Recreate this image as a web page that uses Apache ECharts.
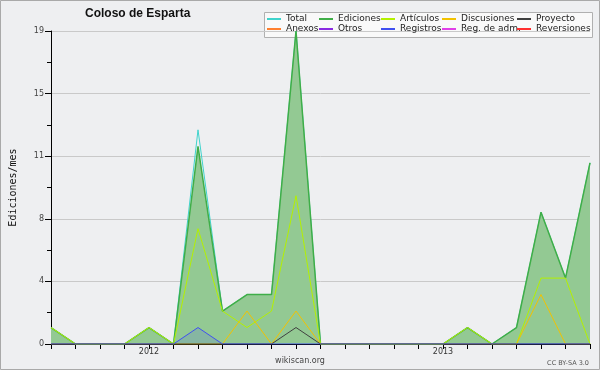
<!DOCTYPE html>
<html><head><meta charset="utf-8">
<script src="https://cdn.jsdelivr.net/npm/echarts@6/dist/echarts.min.js"></script>
<style>html,body{margin:0;padding:0;background:#eeeff1}#c{width:600px;height:370px}</style>
</head><body><div id="c"></div>
<script>
const months = ['2011-09','2011-10','2011-11','2011-12','2012-01','2012-02','2012-03','2012-04','2012-05','2012-06','2012-07','2012-08','2012-09','2012-10','2012-11','2012-12','2013-01','2013-02','2013-03','2013-04','2013-05','2013-06','2013-07'];
const total       = [1,0,0,0,1,0,13,2,3,3,19,0,0,0,0,0,0,1,0,1,8,4,11];
const ediciones   = [1,0,0,0,1,0,12,2,3,3,19,0,0,0,0,0,0,1,0,1,8,4,11];
const articulos   = [1,0,0,0,1,0,7,2,1,2,9,0,0,0,0,0,0,1,0,0,4,4,0];
const discusiones = [0,0,0,0,0,0,0,0,2,0,2,0,0,0,0,0,0,0,0,0,3,0,0];
const proyecto    = [0,0,0,0,0,0,0,0,0,0,1,0,0,0,0,0,0,0,0,0,0,0,0];
const registros   = [0,0,0,0,0,0,1,0,0,0,0,0,0,0,0,0,0,0,0,0,0,0,0];

const C = {
  'Total':'#3fd3cc','Ediciones':'#3fae48','Artículos':'#b4f000','Discusiones':'#f2c200',
  'Proyecto':'#404040','Anexos':'#ff8030','Otros':'#8a2be2','Registros':'#4050f0',
  'Reg. de adm.':'#e040e8','Reversiones':'#ff3030'
};
function line(name, data, extra) {
  return Object.assign({
    name, type:'line', data, symbol:'none', silent:true,
    lineStyle:{width:1, color:C[name]}, itemStyle:{color:C[name]}
  }, extra || {});
}
const chart = echarts.init(document.getElementById('c'), null, {renderer:'canvas'});
const legCols = [
  [267, ['Total','Anexos']],
  [319, ['Ediciones','Otros']],
  [381, ['Artículos','Registros']],
  [442, ['Discusiones','Reg. de adm.']],
  [517, ['Proyecto','Reversiones']]
];
chart.setOption({
  animation:false,
  backgroundColor:'#eeeff1',
  title:{text:'Coloso de Esparta', left:85, top:8, padding:0,
    textStyle:{fontFamily:'Liberation Sans', fontSize:12, fontWeight:'bold', color:'#111'}},
  graphic:[
    {type:'rect', shape:{x:0.5,y:0.5,width:599,height:369}, style:{fill:null, stroke:'#a9a9a9', lineWidth:1}, z:-1, silent:true},
    {type:'rect', shape:{x:264.5,y:12.5,width:328,height:25}, style:{fill:'#f9f9f9', stroke:'#b0b0b0', lineWidth:1}, z:0, silent:true},
    {type:'text', x:300, y:361, style:{text:'wikiscan.org', fontFamily:'DejaVu Sans', fontSize:8, fill:'#444', align:'center', verticalAlign:'middle'}},
    {type:'text', x:589, y:363, style:{text:'CC BY-SA 3.0', fontFamily:'DejaVu Sans', fontSize:6.5, fill:'#555', align:'right', verticalAlign:'middle'}}
  ],
  legend: legCols.map(([l, d]) => ({
    orient:'vertical', left:l, top:14, padding:0, itemGap:0, itemWidth:14, itemHeight:2,
    icon:'rect', selectedMode:false, data:d, z:5,
    textStyle:{fontFamily:'DejaVu Sans', fontSize:9, lineHeight:10, color:'#222'}
  })),
  grid:{left:47, right:10, top:31, bottom:26, containLabel:false},
  xAxis:{
    type:'category', data:months, boundaryGap:false,
    axisLine:{lineStyle:{color:'#000', width:1}},
    axisTick:{show:true, length:5, interval:0, lineStyle:{color:'#000'}},
    axisLabel:{interval:0, margin:4, fontFamily:'DejaVu Sans', fontSize:8, color:'#333',
      formatter:v => v.endsWith('-01') ? v.slice(0,4) : ''},
    splitLine:{show:false}
  },
  yAxis:{
    type:'value', min:0, max:19, interval:3.8,
    name:'Ediciones/mes', nameLocation:'middle', nameGap:33, nameRotate:90,
    nameTextStyle:{fontFamily:'DejaVu Sans Mono', fontSize:10, color:'#111'},
    axisLine:{show:true, lineStyle:{color:'#000', width:1}},
    axisTick:{show:true, length:6, lineStyle:{color:'#000'}},
    minorTick:{show:true, splitNumber:2, length:4, lineStyle:{color:'#000'}},
    axisLabel:{margin:7, fontFamily:'DejaVu Sans', fontSize:8, color:'#444',
      formatter:v => String(Math.round(v))},
    splitLine:{show:true, lineStyle:{color:'#c9c9c9', width:1}}
  },
  series:[
    line('Ediciones', ediciones, {z:2, lineStyle:{width:1.5, color:C['Ediciones']},
      areaStyle:{color:'#93c993', opacity:1}}),
    line('Total', total, {z:1}),
    line('Artículos', articulos, {z:3}),
    line('Discusiones', discusiones, {z:3}),
    line('Proyecto', proyecto, {z:3}),
    line('Registros', registros, {z:3, areaStyle:{color:'#6080d0', opacity:0.25}}),
    line('Anexos', []),
    line('Otros', []),
    line('Reg. de adm.', []),
    line('Reversiones', [])
  ]
});
</script></body></html>
